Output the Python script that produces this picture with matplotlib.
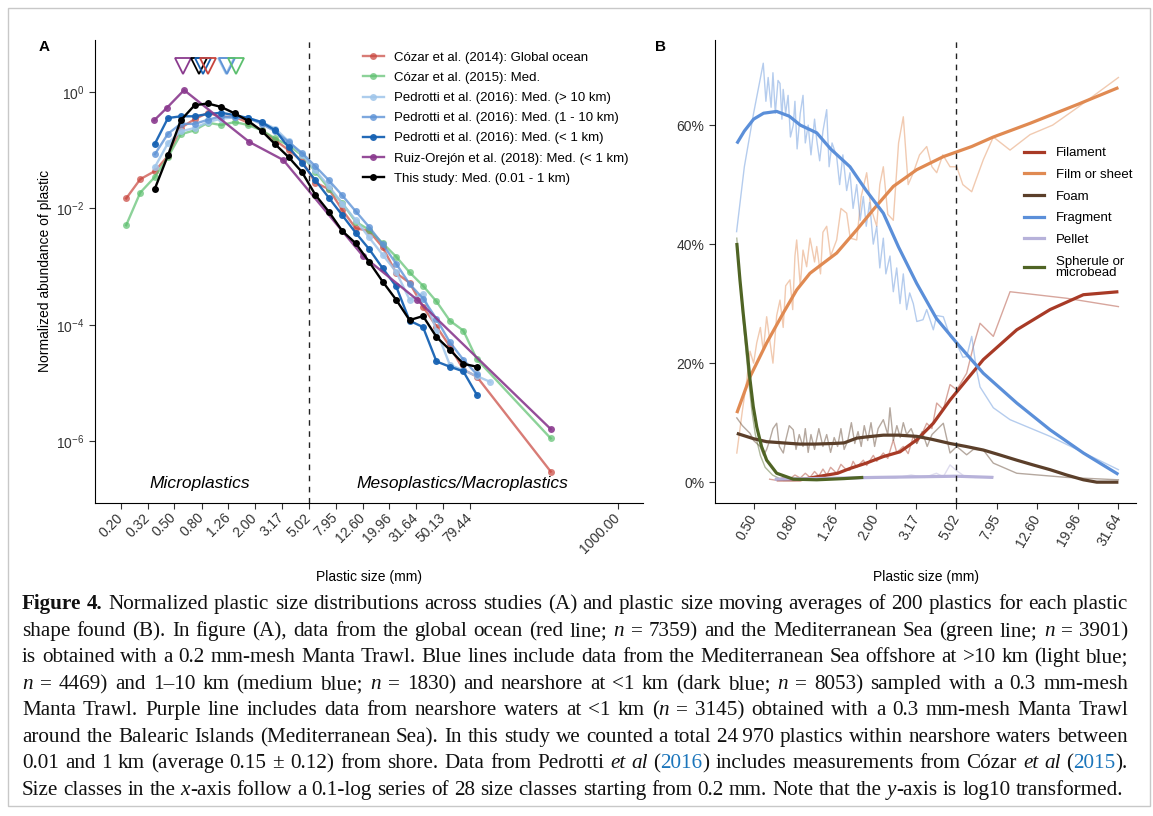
import numpy as np
import matplotlib.pyplot as plt
import matplotlib as mpl
from matplotlib.lines import Line2D
from matplotlib.patches import Rectangle
from matplotlib.ticker import FixedLocator, NullLocator
from matplotlib.transforms import blended_transform_factory

# -------------------------
# style
# -------------------------
mpl.rcParams.update({
    'font.family': ['Liberation Sans', 'DejaVu Sans'],
    'font.size': 10,
    'axes.linewidth': 0.8,
    'xtick.major.width': 0.8,
    'ytick.major.width': 0.8,
    'xtick.major.size': 4,
    'ytick.major.size': 4,
    'xtick.color': '#333333',
    'ytick.color': '#333333',
    'mathtext.fontset': 'custom',
    'mathtext.rm': 'Liberation Sans',
    'mathtext.it': 'Liberation Sans:italic',
})

W, H = 1153, 816

# -------------------------
# panel A data (log10 of normalized abundance)
# -------------------------
size_classes = [0.22, 0.28, 0.36, 0.45, 0.56, 0.71, 0.89, 1.12, 1.41, 1.78,
                2.24, 2.82, 3.55, 4.47, 5.62, 7.08, 8.91, 11.2, 14.1, 17.8,
                22.4, 28.2, 35.5, 44.7, 56.2, 70.8, 89.1, 112.2]
last_class = 316.0

cozar14_x = size_classes[0:27] + [last_class]
cozar14_y = [-1.83, -1.50, -1.36, -1.10, -0.62, -0.47, -0.36, -0.43, -0.43, -0.53,
             -0.66, -0.83, -1.00, -1.19, -1.56, -1.67, -2.03, -2.34, -2.39, -2.67,
             -3.11, -3.28, -3.69, -4.03, -4.37, -4.77, -4.89, -6.52]

cozar15_x = size_classes[0:27] + [last_class]
cozar15_y = [-2.29, -1.73, -1.46, -1.12, -0.73, -0.66, -0.53, -0.57, -0.52, -0.57,
             -0.66, -0.80, -0.92, -1.09, -1.37, -1.66, -1.91, -2.23, -2.37, -2.60,
             -2.83, -3.10, -3.33, -3.60, -3.93, -4.10, -4.59, -5.95]

pedrotti_off_x = size_classes[2:28]
pedrotti_off_y = [-1.29, -0.88, -0.68, -0.62, -0.52, -0.46, -0.44, -0.45, -0.52, -0.63,
                  -0.85, -1.08, -1.35, -1.62, -1.92, -2.20, -2.50, -2.80, -3.09, -3.57,
                  -3.47, -4.10, -4.69, -4.78, -4.88, -4.98]

pedrotti_mid_x = size_classes[2:27]
pedrotti_mid_y = [-1.07, -0.72, -0.55, -0.55, -0.48, -0.42, -0.44, -0.45, -0.55, -0.68,
                  -0.86, -1.05, -1.28, -1.52, -1.78, -2.05, -2.32, -2.62, -2.95, -3.30,
                  -3.55, -3.90, -4.30, -4.60, -4.85]

pedrotti_near_x = size_classes[2:27]
pedrotti_near_y = [-0.89, -0.45, -0.42, -0.42, -0.38, -0.36, -0.40, -0.45, -0.52, -0.66,
                   -0.95, -1.22, -1.52, -1.82, -2.12, -2.42, -2.70, -3.03, -3.34, -3.93,
                   -4.04, -4.63, -4.72, -4.80, -5.20]

ruiz_x = [0.355, 0.444, 0.593, 1.81, 3.24, 12.7, 32.1, last_class]
ruiz_y = [-0.49, -0.27, 0.03, -0.86, -1.17, -2.82, -3.57, -5.79]

study_x = size_classes[2:27]
study_y = [-1.66, -1.09, -0.49, -0.23, -0.20, -0.26, -0.37, -0.50, -0.67, -0.90,
           -1.12, -1.38, -1.77, -2.06, -2.39, -2.60, -2.92, -3.26, -3.57, -3.92,
           -3.85, -4.21, -4.43, -4.67, -4.72]

labels_A = ['Cózar et al. (2014): Global ocean',
            'Cózar et al. (2015): Med.',
            'Pedrotti et al. (2016): Med. (> 10 km)',
            'Pedrotti et al. (2016): Med. (1 - 10 km)',
            'Pedrotti et al. (2016): Med. (< 1 km)',
            'Ruiz-Orejón et al. (2018): Med. (< 1 km)',
            'This study: Med. (0.01 - 1 km)']
colors_A = ['#c8443c', '#5cbf6e', '#9fc5ea', '#5e93d6', '#1762b3', '#8a3a8e', '#000000']
alphas_A = [0.7, 0.7, 0.85, 0.8, 0.95, 0.9, 1.0]

# median size markers (triangles)
median_x = [0.583, 0.768, 0.822, 0.896, 1.22, 1.24, 1.445]
median_c = ['#8a3a8e', '#000000', '#1762b3', '#c8443c', '#9fc5ea', '#5e93d6', '#5cbf6e']
median_level = 2.75

ticks_A = [0.20, 0.32, 0.50, 0.80, 1.26, 2.00, 3.17, 5.02, 7.95, 12.60, 19.96,
           31.64, 50.13, 79.44, 1000.00]

# -------------------------
# panel B data (% of plastics, moving averages)
# -------------------------
frag_thin_x = [0.412, 0.45, 0.50, 0.558, 0.575, 0.59, 0.61, 0.623, 0.64, 0.66, 0.675,
               0.69, 0.70, 0.72, 0.74, 0.76, 0.785, 0.80, 0.82, 0.85, 0.877, 0.90,
               0.93, 0.96, 1.0, 1.025, 1.06, 1.10, 1.148, 1.18, 1.22, 1.286, 1.33,
               1.38, 1.441, 1.496, 1.55, 1.615, 1.68, 1.741, 1.80, 1.87, 1.95, 2.028,
               2.10, 2.186, 2.25, 2.358, 2.449, 2.545, 2.643, 2.744, 2.85, 2.95,
               3.074, 3.2, 3.433, 3.581, 3.86, 4.012, 4.325, 4.668, 5.037, 5.4,
               5.64, 5.974, 6.3, 6.567, 7.639, 9.237, 14.56, 31.68]
frag_thin_y = [42.1, 53, 62, 70.4, 64, 68, 63, 68.8, 62, 67.5, 67,
               61, 66, 62, 65, 58, 60, 64, 56, 62, 65, 57,
               60, 55, 61, 57.5, 54, 59, 62.6, 53, 57, 54.7, 50,
               55, 49, 52, 46, 50, 44, 48, 43, 47, 40, 43,
               36, 41, 35, 38, 32, 36, 30, 35, 29, 31.8,
               30, 27, 27.3, 29, 25.6, 28, 27.8, 24.5, 23.3, 21,
               21.1, 24.5, 19, 16, 12.5, 10.5, 7.7, 2.1]
frag_x = [0.413, 0.45, 0.5, 0.56, 0.65, 0.75, 0.85, 1.025, 1.2, 1.496, 1.8, 2.186,
          2.6, 3.195, 4.0, 5.037, 6.817, 9.97, 14.56, 21.27, 31.68]
frag_y = [56.9, 59, 61, 62, 62.3, 61.5, 60, 58.7, 56, 53, 49, 45.2,
          39.5, 33.4, 27.5, 23.4, 18.3, 13.3, 8.8, 4.9, 1.3]

film_thin_x = [0.413, 0.44, 0.462, 0.48, 0.50, 0.518, 0.54, 0.558, 0.58, 0.60, 0.623,
               0.65, 0.675, 0.70, 0.72, 0.756, 0.78, 0.80, 0.816, 0.85, 0.877, 0.914,
               0.95, 1.0, 1.025, 1.07, 1.10, 1.148, 1.2, 1.286, 1.35, 1.441, 1.50,
               1.615, 1.70, 1.809, 1.9, 2.028, 2.1, 2.186, 2.3, 2.449, 2.6, 2.744,
               2.9, 3.074, 3.3, 3.581, 3.8, 4.012, 4.3, 4.668, 5.037, 5.4, 5.974,
               6.3, 6.817, 7.639, 9.237, 11.6, 15.0, 20.0, 31.68]
film_thin_y = [4.9, 12, 17, 22, 20, 23.4, 26, 22, 27.8, 24, 20,
               28, 30.6, 26, 33, 34, 29, 38, 40.7, 33, 39, 36.2,
               41, 37, 39.6, 35, 42, 43, 38, 40.7, 46, 45.2, 41,
               40.7, 48, 52, 46, 43, 50, 53, 45, 44, 57, 61.4,
               50, 52, 55, 56.4, 53, 52, 55, 53, 53, 50, 48.8,
               51, 54.2, 58, 55.8, 58.4, 60, 63, 68]
film_x = [0.413, 0.48, 0.58, 0.70, 0.816, 0.949, 1.286, 1.615, 1.951, 2.449, 3.195,
          4.325, 5.974, 7.639, 11.6, 20.0, 31.68]
film_y = [11.6, 17.7, 23.4, 28.4, 32.3, 35.1, 38.5, 42.4, 45.8, 49.7, 52.5,
          54.7, 56.4, 58, 60.3, 63.5, 66.3]

fil_thin_x = [0.60, 0.65, 0.70, 0.75, 0.80, 0.85, 0.90, 0.95, 1.0, 1.05, 1.1, 1.15,
              1.2, 1.286, 1.35, 1.441, 1.496, 1.55, 1.615, 1.741, 1.809, 1.951,
              2.028, 2.186, 2.3, 2.449, 2.545, 2.744, 2.9, 3.074, 3.2, 3.433, 3.581,
              3.8, 4.012, 4.325, 4.668, 5.037, 5.64, 6.085, 6.567, 7.639, 9.237,
              17.61, 31.68]
fil_thin_y = [0.5, 0.3, 0.8, 0.5, 1.2, 0.7, 1.5, 0.8, 1.8, 1.0, 2.2, 1.2,
              2.5, 1.5, 3, 2, 2, 3.5, 2.5, 3.7, 2.8, 4.5,
              3.5, 4.9, 4, 7.1, 5, 6, 4.8, 7.7, 6.5, 8.5, 9.9,
              9, 13.3, 12.2, 16.4, 15.5, 18.3, 22.8, 26.7, 24.5, 32,
              30.9, 29.5]
fil_x = [0.65, 0.85, 1.025, 1.3, 1.496, 1.8, 2.186, 2.643, 3.195, 3.86, 4.668, 5.64,
         6.817, 9.97, 14.56, 21.27, 31.68]
fil_y = [0.4, 0.4, 0.9, 1.5, 2.3, 3.2, 4.3, 5.1, 7.1, 9.9, 13.8, 17.2,
         20.6, 25.6, 29, 31.5, 32]

foam_thin_x = [0.413, 0.44, 0.48, 0.50, 0.538, 0.56, 0.58, 0.60, 0.623, 0.65, 0.67,
               0.701, 0.72, 0.75, 0.785, 0.81, 0.84, 0.877, 0.9, 0.93, 0.96, 1.0,
               1.05, 1.1, 1.148, 1.2, 1.25, 1.3, 1.35, 1.4, 1.46, 1.52, 1.58, 1.64,
               1.7, 1.76, 1.83, 1.9, 1.98, 2.06, 2.186, 2.3, 2.358, 2.45, 2.55, 2.65,
               2.744, 2.85, 3.0, 3.195, 3.4, 3.6, 3.8, 4.325, 4.668, 5.037, 5.64,
               6.085, 6.817, 7.639, 9.97, 17.61, 31.68]
foam_thin_y = [10.8, 9.5, 8.2, 7, 6, 4.5, 5.5, 7, 9, 9.9, 6,
               4.9, 7, 9.5, 8.8, 5.5, 8, 6, 9, 5, 8, 5.5,
               9, 6, 8, 5, 7.5, 6, 9, 5.5, 7, 10, 6.5, 8.5,
               6, 9.5, 7, 10, 6, 9, 10.5, 8, 12.5, 7, 9.5, 7.5,
               10, 8, 9, 6.5, 8.5, 6, 8, 9.9, 4.9, 6, 4.6,
               5.5, 5.4, 3.2, 1.5, 0.8, 0.4]
foam_x = [0.413, 0.5, 0.58, 0.7, 0.847, 1.0, 1.237, 1.4, 1.615, 1.8, 2.186, 2.6,
          3.195, 3.8, 4.668, 5.6, 6.817, 8.0, 9.97, 12.0, 14.56, 17.6, 21.27,
          24.77, 31.68]
foam_y = [8.2, 7.3, 6.8, 6.6, 6.4, 6.4, 6.5, 6.6, 7.4, 7.6, 7.9, 7.9,
          7.7, 7.2, 6.5, 6.0, 5.4, 4.7, 3.7, 2.9, 2.1, 1.2, 0.4,
          0.0, 0.0]

pel_thin_x = [0.637, 0.8, 1.0, 1.3, 1.6, 2.0, 2.5, 3.0, 3.5, 4.0, 4.325, 4.668, 5.0,
              5.5, 6.2, 7.639]
pel_thin_y = [0.5, 0.6, 0.5, 0.7, 0.6, 0.9, 0.7, 1.2, 0.8, 1.5, 0.9, 2.9, 2.0,
              1.0, 0.8, 0.9]
pel_x = [0.637, 1.0, 2.0, 3.2, 5.0, 7.639]
pel_y = [0.5, 0.6, 0.8, 0.9, 1.0, 0.8]

sph_thin_x = [0.413, 0.43, 0.45, 0.47, 0.49, 0.51, 0.54, 0.57, 0.62, 0.70, 0.80]
sph_thin_y = [41, 33, 25, 18, 12, 8, 4.5, 2.5, 1.2, 0.3, 0.3]
sph_x = [0.413, 0.428, 0.444, 0.462, 0.48, 0.498, 0.518, 0.547, 0.58, 0.65, 0.785,
         1.025, 1.4, 1.741]
sph_y = [40.2, 34, 28.4, 22.8, 17.2, 12.7, 9.3, 6, 3.7, 1.5, 0.5,
         0.4, 0.6, 0.8]

labels_B = ['Filament', 'Film or sheet', 'Foam', 'Fragment', 'Pellet',
            'Spherule or\nmicrobead']
colors_B = ['#a83a26', '#e08a52', '#5b3f2a', '#5b8fd9', '#b7b2da', '#4f6424']
ticks_B = [0.50, 0.80, 1.26, 2.00, 3.17, 5.02, 7.95, 12.60, 19.96, 31.64]
ticks_Bpct = [0, 20, 40, 60]

# -------------------------
# figure
# -------------------------
fig = plt.figure(figsize=(W / 100, H / 100), dpi=100)
fig.patches.append(Rectangle((8 / W, 1 - 806 / H), 1142 / W, 798 / H,
                             transform=fig.transFigure, fill=False,
                             edgecolor='#c8c8c8', lw=1))


def px_axes(l, t, r, b):
    return fig.add_axes([l / W, 1 - b / H, (r - l) / W, (b - t) / H])


# ---------- panel A ----------
axA = px_axes(95, 40, 643, 503)
seriesA = [(cozar14_x, cozar14_y), (cozar15_x, cozar15_y),
           (pedrotti_off_x, pedrotti_off_y), (pedrotti_mid_x, pedrotti_mid_y),
           (pedrotti_near_x, pedrotti_near_y), (ruiz_x, ruiz_y), (study_x, study_y)]
for (xs, ys), c, a in zip(seriesA, colors_A, alphas_A):
    axA.plot(xs, np.power(10.0, ys), color=c, alpha=a, lw=1.7,
             marker='o', markersize=5, markeredgewidth=0)

for mx, mc in zip(median_x, median_c):
    axA.plot([mx], [median_level], marker='v', markersize=12, markerfacecolor='none',
             markeredgecolor=mc, markeredgewidth=1.3, linestyle='none')

axA.axvline(5.02, color='#222222', lw=1, ls=(0, (4, 4)))
axA.set_xscale('log')
axA.set_yscale('log')
axA.set_xlim(0.129, 1535)
axA.set_ylim(10 ** -7.06, 10 ** 0.89)
axA.xaxis.set_major_locator(FixedLocator(ticks_A))
axA.xaxis.set_minor_locator(NullLocator())
axA.set_xticklabels([f'{t:.2f}' for t in ticks_A], rotation=45, ha='right',
                    va='center', rotation_mode='anchor', fontsize=10)
axA.yaxis.set_major_locator(FixedLocator([1, 1e-2, 1e-4, 1e-6]))
axA.yaxis.set_minor_locator(NullLocator())
axA.set_yticklabels([r'$10^{0}$', r'$10^{-2}$', r'$10^{-4}$', r'$10^{-6}$'], fontsize=10)
axA.tick_params(axis='x', pad=5)
for s in ['top', 'right']:
    axA.spines[s].set_visible(False)

region_tr = blended_transform_factory(axA.transData, axA.transAxes)
axA.text(0.78, 0.043, 'Microplastics', style='italic', fontsize=12.5,
         ha='center', va='center', transform=region_tr)
axA.text(70.0, 0.043, 'Mesoplastics/Macroplastics', style='italic', fontsize=12.5,
         ha='center', va='center', transform=region_tr)

handlesA = [Line2D([], [], color=c, alpha=a, lw=1.7, marker='o', markersize=5,
                   markeredgewidth=0) for c, a in zip(colors_A, alphas_A)]
axA.legend(handlesA, labels_A, loc='upper left', bbox_to_anchor=(356 / W, 1 - 45 / H),
           bbox_transform=fig.transFigure, frameon=False, fontsize=9.5,
           handlelength=1.6, handletextpad=0.8, labelspacing=0.6, borderpad=0)

fig.text(369 / W, 1 - 577 / H, 'Plastic size (mm)', ha='center', va='center', fontsize=10)
fig.text(45 / W, 1 - 271 / H, 'Normalized abundance of plastic', ha='center',
         va='center', rotation=90, fontsize=10)
fig.text(44 / W, 1 - 47 / H, 'A', weight='bold', fontsize=11, ha='center', va='center')

# ---------- panel B ----------
axB = px_axes(715, 40, 1136, 503)
thin = [(fil_thin_x, fil_thin_y), (film_thin_x, film_thin_y), (foam_thin_x, foam_thin_y),
        (frag_thin_x, frag_thin_y), (pel_thin_x, pel_thin_y), (sph_thin_x, sph_thin_y)]
thick = [(fil_x, fil_y), (film_x, film_y), (foam_x, foam_y), (frag_x, frag_y),
         (pel_x, pel_y), (sph_x, sph_y)]
for (xs, ys), c in zip(thin, colors_B):
    axB.plot(xs, ys, color=c, lw=1.0, alpha=0.45)
for (xs, ys), c in zip(thick, colors_B):
    axB.plot(xs, ys, color=c, lw=2.3, solid_capstyle='butt')

axB.axvline(5.02, color='#222222', lw=1, ls=(0, (4, 4)))
axB.set_xscale('log')
axB.set_xlim(0.3223, 38.7)
axB.set_ylim(-3.5, 74.3)
axB.xaxis.set_major_locator(FixedLocator(ticks_B))
axB.xaxis.set_minor_locator(NullLocator())
axB.set_xticklabels([f'{t:.2f}' for t in ticks_B], rotation=60, ha='right',
                    va='center', rotation_mode='anchor', fontsize=10)
axB.yaxis.set_major_locator(FixedLocator(ticks_Bpct))
axB.set_yticklabels([f'{t}%' for t in ticks_Bpct], fontsize=10)
axB.tick_params(axis='x', pad=5)
for s in ['top', 'right']:
    axB.spines[s].set_visible(False)

handlesB = [Line2D([], [], color=c, lw=2.3) for c in colors_B]
legB = axB.legend(handlesB, labels_B, loc='upper left',
                  bbox_to_anchor=(1016 / W, 1 - 139 / H),
                  bbox_transform=fig.transFigure, frameon=True, facecolor='white',
                  edgecolor='none', framealpha=1, fontsize=9.5, handlelength=1.5,
                  handletextpad=0.9, labelspacing=0.72, borderpad=0.1, fancybox=False)
for t in legB.get_texts():
    t.set_linespacing(0.95)

fig.text(926 / W, 1 - 577 / H, 'Plastic size (mm)', ha='center', va='center', fontsize=10)
fig.text(660 / W, 1 - 47 / H, 'B', weight='bold', fontsize=11, ha='center', va='center')

# -------------------------
# caption (justified, drawn word by word)
# -------------------------
renderer = fig.canvas.get_renderer()
CAP_FONT = 'Liberation Serif'
BLUE = '#1b75bb'
N = ('n', {'style': 'italic'})
R = {}

caption = [
    [('Figure 4.', {'weight': 'bold'}),
     (' Normalized plastic size distributions across studies (A) and plastic size moving '
      'averages of 200 plastics for each plastic', R)],
    [('shape found (B). In figure (A), data from the global ocean (red line; ', R), N,
     (' = 7359) and the Mediterranean Sea (green line; ', R), N, (' = 3901)', R)],
    [('is obtained with a 0.2 mm-mesh Manta Trawl. Blue lines include data from the '
      'Mediterranean Sea offshore at >10 km (light blue;', R)],
    [N, (' = 4469) and 1–10 km (medium blue; ', R), N,
     (' = 1830) and nearshore at <1 km (dark blue; ', R), N,
     (' = 8053) sampled with a 0.3 mm-mesh', R)],
    [('Manta Trawl. Purple line includes data from nearshore waters at <1 km (', R), N,
     (' = 3145) obtained with a 0.3 mm-mesh Manta Trawl', R)],
    [('around the Balearic Islands (Mediterranean Sea). In this study we counted a total '
      '24\u2009970 plastics within nearshore waters between', R)],
    [('0.01 and 1 km (average 0.15 ± 0.12) from shore. Data from Pedrotti ', R),
     ('et al', {'style': 'italic'}), (' (', R), ('2016', {'color': BLUE}),
     (') includes measurements from Cózar ', R), ('et al', {'style': 'italic'}),
     (' (', R), ('2015', {'color': BLUE}), (').', R)],
    [('Size classes in the ', R), ('x', {'style': 'italic'}),
     ('-axis follow a 0.1-log series of 28 size classes starting from 0.2 mm. Note that the ', R),
     ('y', {'style': 'italic'}), ('-axis is log10 transformed.', R)],
]
baselines = [609, 636, 662, 689, 715, 742, 768, 795]
LEFT, RIGHT = 22, 1128


def split_runs(runs):
    items = []
    for text, style in runs:
        parts = text.replace('\u2009', '\x00').split(' ')
        for i, p in enumerate(parts):
            if i > 0:
                items.append(None)
            if p:
                items.append((p.replace('\x00', '\u2009'), style))
    return items


def make_word(word, style, size, y_px):
    return fig.text(0, 1 - y_px / H, word, family=CAP_FONT, fontsize=size,
                    va='baseline', ha='left', color=style.get('color', '#111111'),
                    style=style.get('style', 'normal'),
                    weight=style.get('weight', 'normal'))


def space_width(size):
    a = fig.text(0, 0, 'x x', family=CAP_FONT, fontsize=size)
    b = fig.text(0, 0, 'xx', family=CAP_FONT, fontsize=size)
    w = a.get_window_extent(renderer).width - b.get_window_extent(renderer).width
    a.remove()
    b.remove()
    return w


def natural_width(runs, size):
    sp = space_width(size)
    total = 0.0
    for it in split_runs(runs):
        if it is None:
            total += sp
        else:
            t = make_word(it[0], it[1], size, 0)
            total += t.get_window_extent(renderer).width
            t.remove()
    return total


def draw_caption_line(runs, y_px, justify, size):
    sp = space_width(size)
    items = split_runs(runs)
    objs, total, n_sp = [], 0.0, 0
    for it in items:
        if it is None:
            n_sp += 1
            objs.append(None)
            continue
        t = make_word(it[0], it[1], size, y_px)
        w = t.get_window_extent(renderer).width
        objs.append((t, w))
        total += w
    gap = sp
    if justify and n_sp:
        gap = sp + (RIGHT - LEFT - total - n_sp * sp) / n_sp
    x = LEFT
    for o in objs:
        if o is None:
            x += gap
        else:
            o[0].set_x(x / W)
            x += o[1]


# pick the caption size from the last (unjustified) line, which ends near x=1117
base = 13
widths = [natural_width(r, base) for r in caption]
cap_size = base * (1117 - LEFT) / widths[-1]
cap_size = min(cap_size, base * (RIGHT - LEFT - 4) / max(widths[:-1]))

for i, (runs, yb) in enumerate(zip(caption, baselines)):
    draw_caption_line(runs, yb, justify=(i < len(caption) - 1), size=cap_size)

fig.savefig('out.png', dpi=100)
